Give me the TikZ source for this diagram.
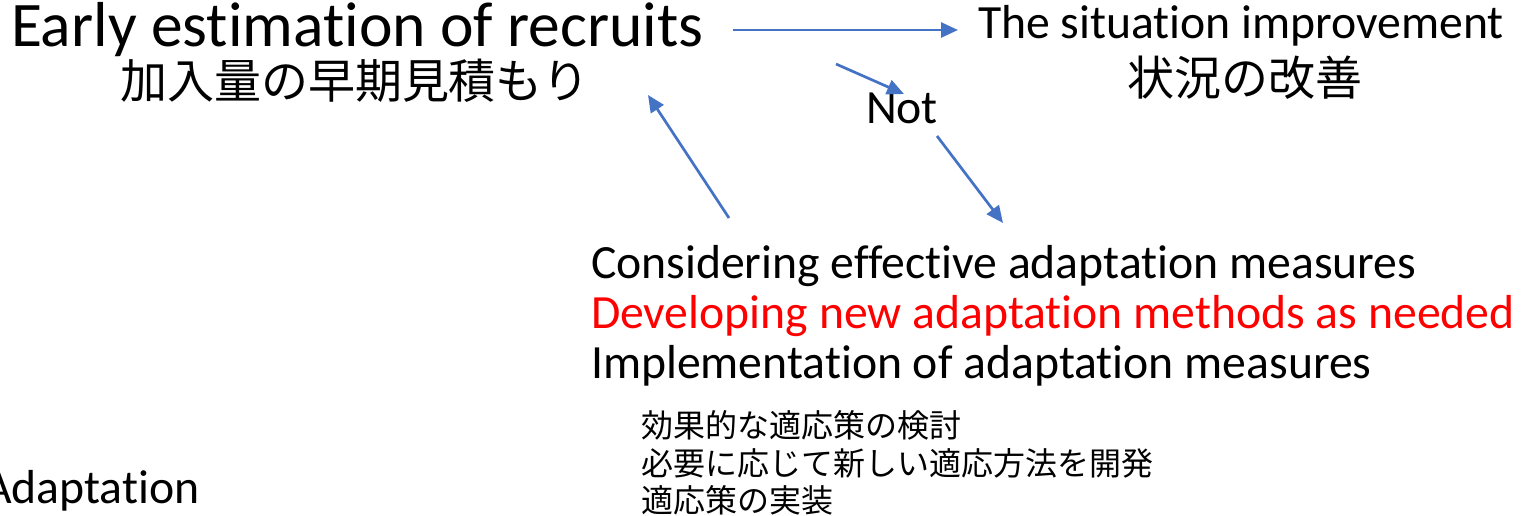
\documentclass[tikz,border=0pt]{standalone}
\usepackage{fontspec}
\setmainfont{Carlito}[Ligatures={NoCommon}]
\newfontfamily\cjk{Noto Sans CJK JP}
\usetikzlibrary{arrows.meta}
\definecolor{arrowblue}{HTML}{4472C4}
\definecolor{pptred}{HTML}{FF0000}
\tikzset{
  txt/.style={inner sep=0pt, outer sep=0pt, anchor=base west},
  big/.style={txt, font=\fontsize{63.5}{70}\selectfont},
  mid/.style={txt, font=\fontsize{47.7}{52}\selectfont},
  jbig/.style={txt, font=\cjk\fontsize{47}{52}\selectfont},
  jsmall/.style={txt, font=\cjk\fontsize{32}{36}\selectfont},
  conn/.style={draw=arrowblue, line width=2.7pt, -{Triangle[length=17pt,width=15pt]}}
}
\begin{document}
\begin{tikzpicture}[x=1pt,y=-1pt]
\useasboundingbox (0,0) rectangle (1535,516);
% texts
\node[big] (early) at (11,47) {Early estimation of recruits};
\node[jbig] (earlyj) at (120,99) {加入量の早期見積もり};
\node[mid] (impr) at (978,39) {The situation improvement};
\node[jbig] (imprj) at (1127,96) {状況の改善};
\node[mid] (not) at (866,124) {Not};
\node[mid] (cons) at (591,278) {Considering effective adaptation measures};
\node[mid, text=pptred] (dev) at (591,328) {Developing new adaptation methods as needed};
\node[mid] (impl) at (591,378) {Implementation of adaptation measures};
\node[jsmall] (j1) at (641,437) {効果的な適応策の検討};
\node[jsmall] (j2) at (641,475) {必要に応じて新しい適応方法を開発};
\node[jsmall] (j3) at (641,512) {適応策の実装};
\node[mid] (adapt) at (-16,503) {Adaptation};
% connector end points
\coordinate (a1s) at (733,30);
\coordinate (a1e) at (958,30);
\coordinate (a2s) at (836,64);
\coordinate (a2e) at (904,94);
\coordinate (a3s) at (937,136);
\coordinate (a3e) at (1003,223);
\coordinate (a4s) at (729,218);
\coordinate (a4e) at (648,95);
% connectors
\draw[conn] (a1s) -- (a1e);
\draw[conn] (a2s) -- (a2e);
\draw[conn] (a3s) -- (a3e);
\draw[conn] (a4s) -- (a4e);
\end{tikzpicture}
\end{document}
